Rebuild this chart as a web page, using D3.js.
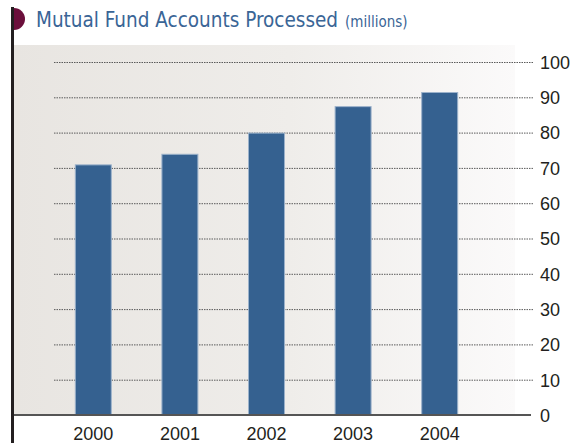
<!DOCTYPE html>
<html>
<head>
<meta charset="utf-8">
<script src="https://cdn.jsdelivr.net/npm/d3@7"></script>
<style>
  html, body { margin: 0; padding: 0; background: #ffffff; }
  svg { display: block; }
</style>
</head>
<body>
<svg id="chart" width="572" height="443"></svg>
<script>
// Mutual fund accounts processed, in millions
const years = ["2000", "2001", "2002", "2003", "2004"];
const accounts = [71, 74, 80, 87.5, 91.5];
const tickValues = [0, 10, 20, 30, 40, 50, 60, 70, 80, 90, 100];

const svg = d3.select("#chart");
const W = 572, H = 443;

const y = d3.scaleLinear().domain([0, 100]).range([415, 62]);
const x = d3.scaleBand()
  .domain(years)
  .range([50, 483])
  .paddingInner(0.573)
  .paddingOuter(0.2865);

// panel background: warm grey fading to white on the right
const defs = svg.append("defs");
const grad = defs.append("linearGradient").attr("id", "panelGrad")
  .attr("x1", "0%").attr("x2", "100%").attr("y1", "0%").attr("y2", "0%");
grad.append("stop").attr("offset", "0%").attr("stop-color", "#e8e5e1");
grad.append("stop").attr("offset", "55%").attr("stop-color", "#efedea");
grad.append("stop").attr("offset", "100%").attr("stop-color", "#fbfafa");

svg.append("rect")
  .attr("x", 14).attr("y", 45)
  .attr("width", 501).attr("height", y(0) - 45)
  .attr("fill", "url(#panelGrad)");

// dotted gridlines
svg.append("g")
  .selectAll("line")
  .data(tickValues.filter(d => d > 0))
  .join("line")
  .attr("x1", 54).attr("x2", 533)
  .attr("y1", d => y(d) + 0.5).attr("y2", d => y(d) + 0.5)
  .attr("stroke", "#5a5a5a")
  .attr("stroke-width", 1)
  .attr("stroke-dasharray", "1.5,1");

// bars
svg.append("g")
  .selectAll("rect")
  .data(accounts)
  .join("rect")
  .attr("x", (d, i) => x(years[i]) + 0.5)
  .attr("width", x.bandwidth() - 1)
  .attr("y", d => y(d) + 0.5)
  .attr("height", d => y(0) - y(d) - 0.5)
  .attr("fill", "#356190")
  .attr("stroke", "#9cb2cb")
  .attr("stroke-width", 1);

// baseline
svg.append("line")
  .attr("x1", 14).attr("x2", 531)
  .attr("y1", y(0)).attr("y2", y(0))
  .attr("stroke", "#555555")
  .attr("stroke-width", 2);

// right-hand value labels
const yAxis = d3.axisRight(y).tickValues(tickValues).tickSize(0).tickPadding(0);
const yg = svg.append("g").attr("transform", "translate(540,0)").call(yAxis);
yg.select(".domain").remove();
yg.selectAll("text")
  .attr("fill", "#231f20")
  .attr("font-family", "'Liberation Sans', Arial, sans-serif")
  .attr("font-size", 18)
  .attr("dy", "0.35em");

// year labels
const xAxis = d3.axisBottom(x).tickSize(0).tickPadding(0);
const xg = svg.append("g").attr("transform", `translate(0,${y(0)})`).call(xAxis);
xg.select(".domain").remove();
xg.selectAll("text")
  .attr("fill", "#231f20")
  .attr("font-family", "'Liberation Sans', Arial, sans-serif")
  .attr("font-size", 18)
  .attr("dy", 0)
  .attr("y", 25);

// dark left rule
svg.append("rect")
  .attr("x", 11).attr("y", 7)
  .attr("width", 3).attr("height", H - 7)
  .attr("fill", "#231f20");

// maroon half-disc marker
svg.append("path")
  .attr("d", d3.arc()({ innerRadius: 0, outerRadius: 11, startAngle: 0, endAngle: Math.PI }))
  .attr("transform", "translate(14,19)")
  .attr("fill", "#6b0f3b");

// title
const title = svg.append("text")
  .attr("x", 36).attr("y", 27)
  .attr("fill", "#3a6596")
  .attr("font-family", "'DejaVu Sans Condensed', sans-serif");
title.append("tspan").attr("font-size", 20.5).text("Mutual Fund Accounts Processed");
title.append("tspan").attr("font-size", 15).attr("dx", 7).text("(millions)");
</script>
</body>
</html>
